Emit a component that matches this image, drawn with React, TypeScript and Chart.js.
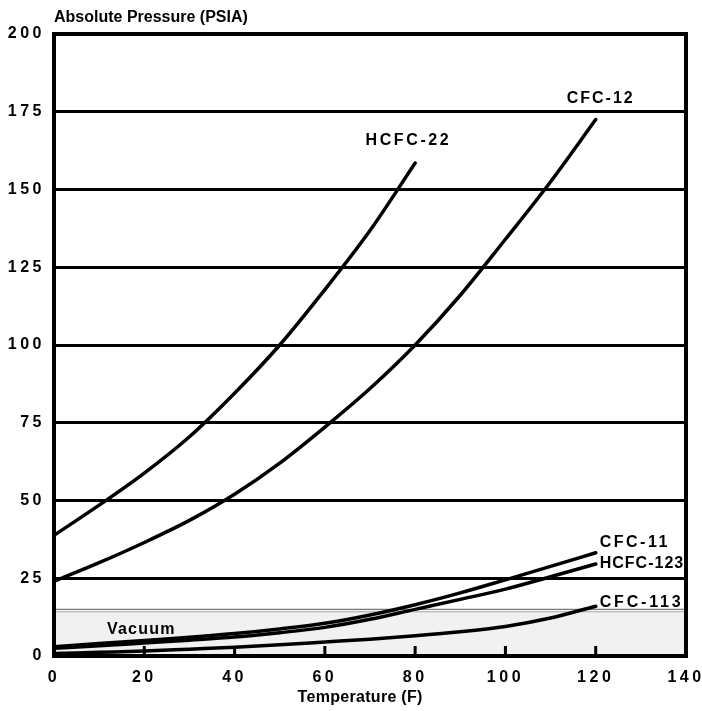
import React, { useEffect, useRef } from 'react';
import { Chart, registerables } from 'chart.js';

Chart.register(...registerables);

// ---- data ----
const temperatures = [0, 10, 20, 30, 40, 50, 60, 70, 80, 90, 100, 110, 120];
const seriesNames = ['HCFC-22', 'CFC-12', 'CFC-11', 'HCFC-123', 'CFC-113'];
const hcfc22 = [38.8, 48.5, 58.8, 70.5, 84.5, 100, 117.8, 136.8, 158.5];
const cfc12 = [24, 30, 36.5, 43.6, 52, 62, 73.6, 86, 100, 116, 134, 152.5, 172.5];
const cfc11 = [3, 4, 5, 6, 7.2, 8.7, 10.5, 13.2, 16.5, 20.3, 24.5, 28.8, 33.2];
const hcfc123 = [2.5, 3.3, 4.2, 5.1, 6.1, 7.5, 9.2, 11.8, 15, 18.2, 21.5, 25.5, 29.6];
const cfc113 = [0.8, 1.2, 1.6, 2.2, 2.8, 3.6, 4.5, 5.4, 6.5, 7.8, 9.5, 12.2, 16];
const xTickValues = [0, 20, 40, 60, 80, 100, 120, 140];
const yTickValues = [0, 25, 50, 75, 100, 125, 150, 175, 200];
const vacuumPressure = 14.7;
const vacuumLabel = 'Vacuum';
const yTitle = 'Absolute Pressure (PSIA)';
const xTitle = 'Temperature (F)';

const FONT = '"Liberation Sans", Arial, Helvetica, sans-serif';
const TICK_LS = '3.5px';

const toPoints = (vals: number[]) => vals.map((v, i) => ({ x: temperatures[i], y: v }));

// label placement relative to each series' last point
const labelPlacement = [
  { dx: -8, dy: -22, align: 'center', ls: 2.6 },
  { dx: 4, dy: -21, align: 'center', ls: 2 },
  { dx: 4, dy: -10, align: 'left', ls: 2.5 },
  { dx: 4, dy: 0, align: 'left', ls: 1 },
  { dx: 4, dy: -4, align: 'left', ls: 2.8 },
];

function drawText(ctx: CanvasRenderingContext2D, text: string, x: number, y: number, align: string, ls: number, size = 16) {
  ctx.save();
  ctx.font = `bold ${size}px ${FONT}`;
  (ctx as any).letterSpacing = ls + 'px';
  ctx.fillStyle = '#000';
  ctx.textBaseline = 'middle';
  ctx.textAlign = 'left';
  const w = ctx.measureText(text).width - ls;
  let sx = x;
  if (align === 'center') sx = x - w / 2;
  else if (align === 'right') sx = x - w;
  ctx.fillText(text, sx, y);
  ctx.restore();
}

const decorPlugin = {
  id: 'decor',
  beforeLayout(chart: any) {
    chart.ctx.letterSpacing = TICK_LS;
  },
  beforeDraw(chart: any) {
    const ctx = chart.ctx;
    ctx.letterSpacing = TICK_LS;
    ctx.save();
    ctx.fillStyle = '#fff';
    ctx.fillRect(0, 0, chart.width, chart.height);
    ctx.restore();
  },
  beforeDatasetsDraw(chart: any) {
    const ctx = chart.ctx;
    const { left, right } = chart.chartArea;
    const ys = chart.scales.y;
    const xs = chart.scales.x;
    const yv = ys.getPixelForValue(vacuumPressure);
    const y0 = ys.getPixelForValue(0);
    ctx.save();
    ctx.fillStyle = '#f1f1f1';
    ctx.fillRect(left, yv, right - left, y0 - yv);
    ctx.strokeStyle = '#7a7a7a';
    ctx.lineWidth = 1.2;
    ctx.beginPath();
    ctx.moveTo(left, yv - 1);
    ctx.lineTo(right, yv - 1);
    ctx.stroke();
    ctx.strokeStyle = '#a8a8a8';
    ctx.lineWidth = 1;
    ctx.beginPath();
    ctx.moveTo(left, yv + 1.5);
    ctx.lineTo(right, yv + 1.5);
    ctx.stroke();
    // inner ticks on x axis
    ctx.strokeStyle = '#000';
    ctx.lineWidth = 3;
    xTickValues.forEach((v) => {
      if (v === xs.min || v === xs.max) return;
      const px = xs.getPixelForValue(v);
      ctx.beginPath();
      ctx.moveTo(px, y0);
      ctx.lineTo(px, y0 - 10);
      ctx.stroke();
    });
    ctx.restore();
    drawText(ctx, vacuumLabel, 107, ys.getPixelForValue(8.6), 'left', 1.2);
  },
  afterDatasetsDraw(chart: any) {
    const ctx = chart.ctx;
    const { left, right, top, bottom } = chart.chartArea;
    ctx.save();
    ctx.strokeStyle = '#000';
    ctx.lineWidth = 4;
    ctx.lineCap = 'square';
    ctx.beginPath();
    ctx.moveTo(left, top);
    ctx.lineTo(right, top);
    ctx.lineTo(right, bottom);
    ctx.lineTo(left, bottom);
    ctx.closePath();
    ctx.stroke();
    ctx.restore();
  },
  afterDraw(chart: any) {
    const ctx = chart.ctx;
    const { left, bottom } = chart.chartArea;
    chart.data.datasets.forEach((ds: any, i: number) => {
      const meta = chart.getDatasetMeta(i);
      const pt = meta.data[meta.data.length - 1];
      const p = labelPlacement[i];
      drawText(ctx, ds.label, pt.x + p.dx, pt.y + p.dy, p.align, p.ls);
    });
    drawText(ctx, yTitle, left, 17.5, 'left', 0);
    drawText(ctx, xTitle, 360, bottom + 42, 'center', 0.3);
  },
};

export default function App() {
  const ref = useRef<HTMLCanvasElement>(null);
  useEffect(() => {
    const allSeries = [hcfc22, cfc12, cfc11, hcfc123, cfc113];
    const chart = new Chart(ref.current as HTMLCanvasElement, {
      type: 'line',
      data: {
        datasets: allSeries.map((vals, i) => ({
          label: seriesNames[i],
          data: toPoints(vals),
          borderColor: '#000',
          backgroundColor: '#000',
          borderWidth: 3.5,
          pointRadius: 0,
          fill: false,
          cubicInterpolationMode: 'monotone' as const,
          borderCapStyle: 'round' as const,
          borderJoinStyle: 'round' as const,
        })),
      },
      options: {
        responsive: false,
        animation: false,
        events: [],
        layout: { padding: { top: 34, right: 16, left: 0, bottom: 0 } },
        plugins: {
          legend: { display: false },
          title: { display: false },
          tooltip: { enabled: false },
        },
        scales: {
          x: {
            type: 'linear',
            min: 0,
            max: 140,
            afterBuildTicks: (s: any) => {
              s.ticks = xTickValues.map((v) => ({ value: v }));
            },
            afterFit: (s: any) => {
              s.height = 55;
              s.paddingLeft = 0;
              s.paddingRight = 0;
            },
            grid: { display: false, drawTicks: false },
            border: { display: false },
            ticks: {
              color: '#000',
              padding: 12,
              maxRotation: 0,
              autoSkip: false,
              font: { family: FONT, size: 16, weight: 'bold' },
            },
          },
          y: {
            type: 'linear',
            min: 0,
            max: 200,
            afterBuildTicks: (s: any) => {
              s.ticks = yTickValues.map((v) => ({ value: v }));
            },
            afterFit: (s: any) => {
              s.width = 54;
              s.paddingTop = 0;
              s.paddingBottom = 0;
            },
            grid: {
              drawTicks: false,
              color: '#000',
              lineWidth: (c: any) => (c.tick && (c.tick.value === 0 || c.tick.value === 200) ? 0 : 3),
            },
            border: { display: false },
            ticks: {
              color: '#000',
              padding: 9,
              autoSkip: false,
              font: { family: FONT, size: 16, weight: 'bold' },
            },
          },
        },
      },
      plugins: [decorPlugin],
    } as any);
    return () => chart.destroy();
  }, []);
  return (
    <canvas
      ref={ref}
      width={702}
      height={711}
      style={{ position: 'fixed', left: 0, top: 0, width: 702, height: 711, display: 'block' }}
    />
  );
}
